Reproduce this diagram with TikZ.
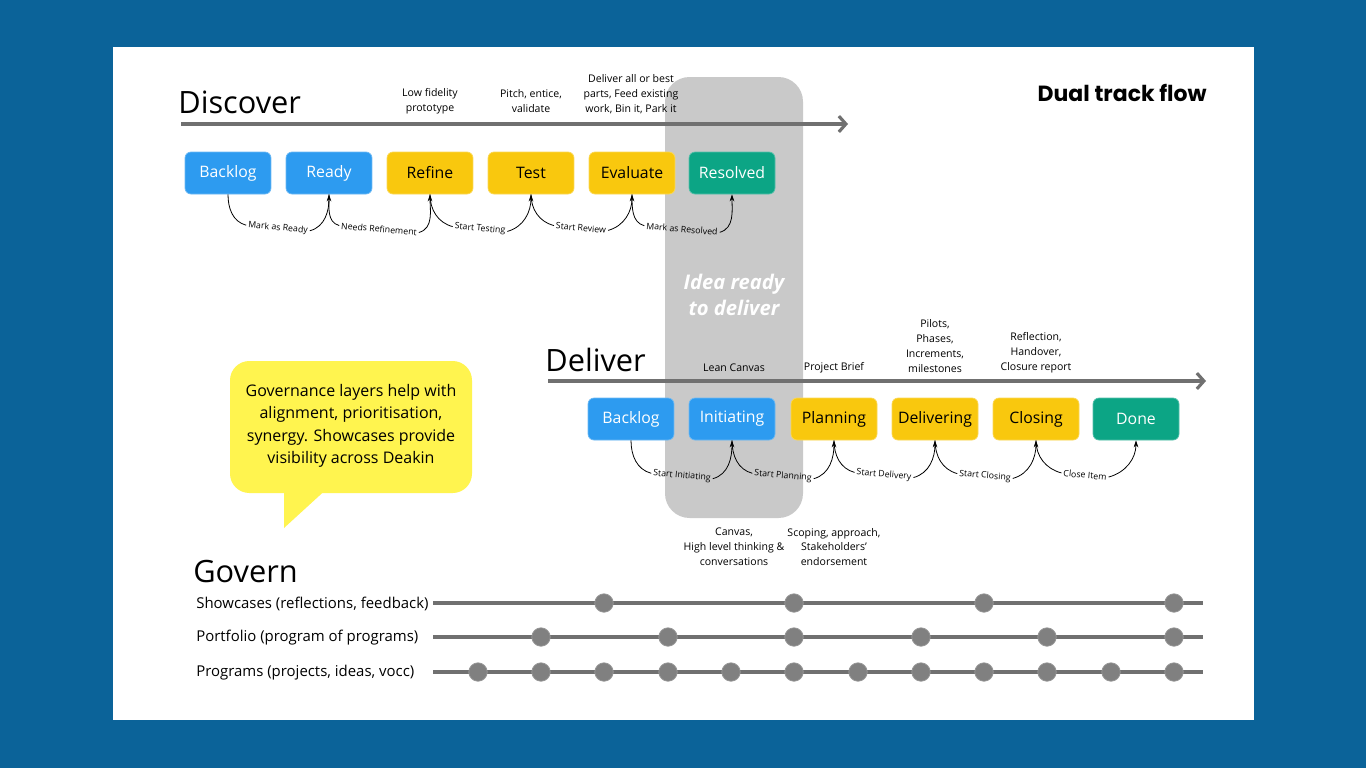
\documentclass[tikz,border=0pt]{standalone}
\usepackage{fontspec}
\setmainfont{Open Sans}
\newfontfamily\headfont{Poppins}
\usepackage{tikz}
\usetikzlibrary{arrows.meta}
\definecolor{hexcolor0x0b6399}{rgb}{0.043,0.388,0.600}
\definecolor{hexcolor0x2d9bf0}{rgb}{0.176,0.608,0.941}
\definecolor{hexcolor0xf9c80e}{rgb}{0.976,0.784,0.055}
\definecolor{hexcolor0x0ca585}{rgb}{0.047,0.647,0.522}
\definecolor{hexcolor0xc9c9c9}{rgb}{0.788,0.788,0.788}
\definecolor{hexcolor0xfff44f}{rgb}{1.000,0.957,0.310}
\definecolor{hexcolor0x707070}{rgb}{0.439,0.439,0.439}
\definecolor{hexcolor0x808080}{rgb}{0.502,0.502,0.502}
\definecolor{myblack}{rgb}{0.000,0.000,0.000}
\definecolor{mywhite}{rgb}{1.000,1.000,1.000}
\tikzstyle{stepA}=[rectangle,rounded corners=3.4pt,minimum width=1.72cm,minimum height=0.84cm,fill=hexcolor0x2d9bf0,draw=hexcolor0x2d9bf0!70!mywhite,text=mywhite,font=\fontsize{9}{11}\selectfont]
\tikzstyle{stepB}=[stepA,fill=hexcolor0xf9c80e,draw=hexcolor0xf9c80e!70!mywhite,text=myblack]
\tikzstyle{stepC}=[stepA,fill=hexcolor0x0ca585,draw=hexcolor0x0ca585!70!mywhite]
\tikzstyle{note}=[align=center,inner sep=0pt,font=\fontsize{6}{8.5}\selectfont]
\tikzstyle{move}=[inner sep=1pt,rotate=-5,font=\fontsize{5}{6}\selectfont]
\tikzstyle{heading}=[anchor=base west,inner sep=0pt,font=\fontsize{17.5}{20}\selectfont]
\tikzstyle{govlabel}=[anchor=west,inner sep=0pt,font=\fontsize{8.5}{10}\selectfont]
\tikzstyle{track}=[draw=hexcolor0x707070,line width=1.8pt,-{Straight Barb[length=4pt,width=9pt]}]
\tikzstyle{timeline}=[draw=hexcolor0x707070,line width=1.8pt]
\tikzstyle{link}=[draw=myblack,line width=0.45pt]
\tikzstyle{linkarrow}=[link,-{Stealth[length=4pt,width=2.6pt]}]
\tikzstyle{milestone}=[circle,fill=hexcolor0x808080,draw=hexcolor0x808080!80!mywhite,line width=0.4pt,minimum size=0.37cm,inner sep=0pt]

\begin{document}
\begin{tikzpicture}[x=0.02cm,y=-0.02cm]
	\useasboundingbox (0,0) rectangle (1366,768);
	\fill [hexcolor0x0b6399] (0,0) rectangle (1366,768);
	\fill [mywhite] (113,47) rectangle (1254,720);
	%\begin{pgfonlayer}{edgelayer}
	\fill [hexcolor0xc9c9c9,rounded corners=14pt] (665,77) rectangle (803,518);
	\node [align=center,inner sep=0pt,text=mywhite,font=\fontsize{11.5}{15}\selectfont\bfseries\itshape] (4) at (734,295) {Idea ready\\to deliver};

		\node [style=heading] (0) at (178,113) {Discover};
		\node [style=heading] (1) at (545,371) {Deliver};
		\node [style=heading] (2) at (193,582) {Govern};
		\node [anchor=base east,inner sep=0pt,font=\headfont\bfseries\fontsize{12.5}{15}\selectfont] (3) at (1207,101) {Dual track flow};

		\coordinate (40) at (181,124);
		\coordinate (41) at (848,124);
		\coordinate (42) at (548,381);
		\coordinate (43) at (1206,381);
		\draw [style=track] (40) -- (41);
		\draw [style=track] (42) -- (43);

		\node [style=note] (27) at (430,101) {Low fidelity\\prototype};
		\node [style=note] (28) at (531,101) {Pitch, entice,\\validate};
		\node [style=note] (29) at (631,94) {Deliver all or best\\parts, Feed existing\\work, Bin it, Park it};
		\node [style=note] (30) at (734,368) {Lean Canvas};
		\node [style=note] (31) at (834,368) {Project Brief};
		\node [style=note] (32) at (935,346) {Pilots,\\Phases,\\Increments,\\milestones};
		\node [style=note] (33) at (1036,353) {Reflection,\\Handover,\\Closure report};
		\node [style=note] (34) at (734,547) {Canvas,\\High level thinking \&\\conversations};
		\node [style=note] (35) at (834,547) {Scoping, approach,\\Stakeholders'\\endorsement};

		\node [style=stepA] (5) at (228,173) {Backlog};
		\node [style=stepA] (6) at (329,173) {Ready};
		\node [style=stepB] (7) at (430,173) {Refine};
		\node [style=stepB] (8) at (531,173) {Test};
		\node [style=stepB] (9) at (632,173) {Evaluate};
		\node [style=stepC] (10) at (732,173) {Resolved};

		\node [style=stepA] (11) at (631,419) {Backlog};
		\node [style=stepA] (12) at (732,419) {Initiating};
		\node [style=stepB] (13) at (834,419) {Planning};
		\node [style=stepB] (14) at (935,419) {Delivering};
		\node [style=stepB] (15) at (1036,419) {Closing};
		\node [style=stepC] (16) at (1136,419) {Done};

		\node [style=move] (17) at (278,228) {Mark as Ready};
		\node [style=move] (18) at (379,229) {Needs Refinement};
		\node [style=move] (19) at (480,229) {Start Testing};
		\node [style=move] (20) at (581,228) {Start Review};
		\node [style=move] (21) at (682,229) {Mark as Resolved};
		\node [style=move] (22) at (682,476) {Start Initiating};
		\node [style=move] (23) at (783,476) {Start Planning};
		\node [style=move] (24) at (884,475) {Start Delivery};
		\node [style=move] (25) at (985,476) {Start Closing};
		\node [style=move] (26) at (1085,475) {Close Item};

		\draw [style=link] (5.south) to[out=-90,in=165] (17.west);
		\draw [style=linkarrow] (17.east) to[out=15,in=-90] (6.south);
		\draw [style=link] (6.south) to[out=-90,in=165] (18.west);
		\draw [style=linkarrow] (18.east) to[out=15,in=-90] (7.south);
		\draw [style=link] (7.south) to[out=-90,in=165] (19.west);
		\draw [style=linkarrow] (19.east) to[out=15,in=-90] (8.south);
		\draw [style=link] (8.south) to[out=-90,in=165] (20.west);
		\draw [style=linkarrow] (20.east) to[out=15,in=-90] (9.south);
		\draw [style=link] (9.south) to[out=-90,in=165] (21.west);
		\draw [style=linkarrow] (21.east) to[out=15,in=-90] (10.south);

		\draw [style=link] (11.south) to[out=-90,in=165] (22.west);
		\draw [style=linkarrow] (22.east) to[out=15,in=-90] (12.south);
		\draw [style=link] (12.south) to[out=-90,in=165] (23.west);
		\draw [style=linkarrow] (23.east) to[out=15,in=-90] (13.south);
		\draw [style=link] (13.south) to[out=-90,in=165] (24.west);
		\draw [style=linkarrow] (24.east) to[out=15,in=-90] (14.south);
		\draw [style=link] (14.south) to[out=-90,in=165] (25.west);
		\draw [style=linkarrow] (25.east) to[out=15,in=-90] (15.south);
		\draw [style=link] (15.south) to[out=-90,in=165] (26.west);
		\draw [style=linkarrow] (26.east) to[out=15,in=-90] (16.south);

	% callout
	\fill [hexcolor0xfff44f,rounded corners=11pt] (230,361) rectangle (472,493);
	\fill [hexcolor0xfff44f] (284,485) -- (284,528) -- (331,485) -- cycle;
		\node [align=center,inner sep=0pt,font=\fontsize{9.1}{12.8}\selectfont] (36) at (351,426) {Governance layers help with\\alignment, prioritisation,\\synergy. Showcases provide\\visibility across Deakin};

		\node [style=govlabel] (37) at (196,604) {Showcases (reflections, feedback)};
		\node [style=govlabel] (38) at (196,638) {Portfolio (program of programs)};
		\node [style=govlabel] (39) at (196,673) {Programs (projects, ideas, vocc)};

		\coordinate (44) at (433,603);
		\coordinate (45) at (1203,603);
		\coordinate (46) at (433,637);
		\coordinate (47) at (1203,637);
		\coordinate (48) at (433,672);
		\coordinate (49) at (1203,672);
		\draw [style=timeline] (44) -- (45);
		\draw [style=timeline] (46) -- (47);
		\draw [style=timeline] (48) -- (49);

		\node [style=milestone] (50) at (604,603) {};
		\node [style=milestone] (51) at (794,603) {};
		\node [style=milestone] (52) at (984,603) {};
		\node [style=milestone] (53) at (1174,603) {};

		\node [style=milestone] (54) at (541,637) {};
		\node [style=milestone] (55) at (668,637) {};
		\node [style=milestone] (56) at (794,637) {};
		\node [style=milestone] (57) at (921,637) {};
		\node [style=milestone] (58) at (1047,637) {};
		\node [style=milestone] (59) at (1174,637) {};

		\node [style=milestone] (60) at (478,672) {};
		\node [style=milestone] (61) at (541,672) {};
		\node [style=milestone] (62) at (604,672) {};
		\node [style=milestone] (63) at (668,672) {};
		\node [style=milestone] (64) at (731,672) {};
		\node [style=milestone] (65) at (794,672) {};
		\node [style=milestone] (66) at (858,672) {};
		\node [style=milestone] (67) at (921,672) {};
		\node [style=milestone] (68) at (984,672) {};
		\node [style=milestone] (69) at (1047,672) {};
		\node [style=milestone] (70) at (1111,672) {};
		\node [style=milestone] (71) at (1174,672) {};
	%\end{pgfonlayer}
\end{tikzpicture}
\end{document}
